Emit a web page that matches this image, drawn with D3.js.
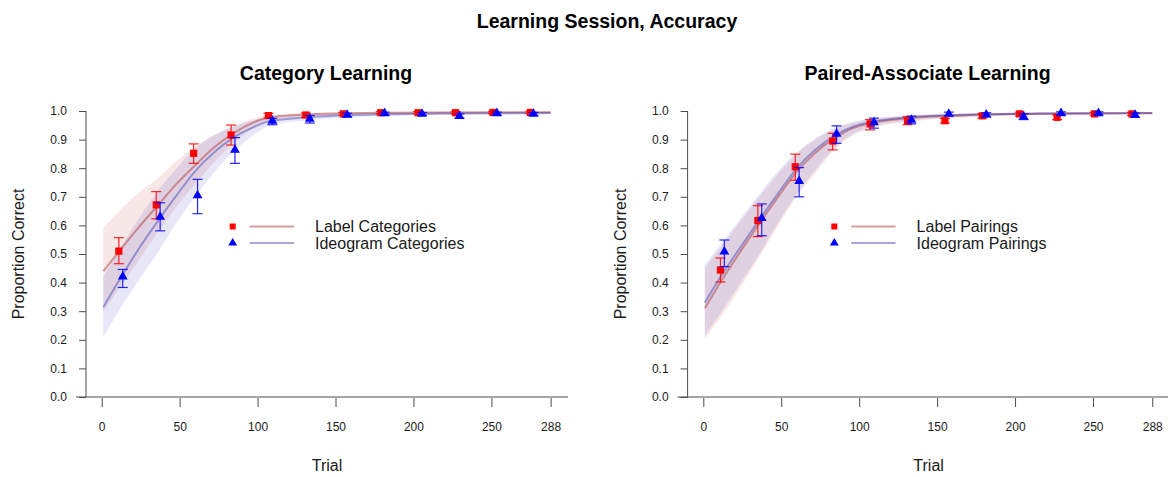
<!DOCTYPE html>
<html><head><meta charset="utf-8">
<script src="https://cdn.jsdelivr.net/npm/d3@7"></script>
<style>
html,body{margin:0;padding:0;background:#fff;}
svg{display:block;font-family:"Liberation Sans",Arial,sans-serif;}
</style></head>
<body><svg id="chart" width="1168" height="477"></svg>
<script>
// ---------- data ----------
const mainTitle = "Learning Session, Accuracy";
const panelTitles = ["Category Learning", "Paired-Associate Learning"];
const legendLabels = [["Label Categories", "Ideogram Categories"], ["Label Pairings", "Ideogram Pairings"]];
const xTickValues = [0, 50, 100, 150, 200, 250, 288];
const yTickValues = [0, 0.1, 0.2, 0.3, 0.4, 0.5, 0.6, 0.7, 0.8, 0.9, 1.0];

// block trial positions of observed means
const labelTrials = [11, 35, 59, 83, 107, 131, 155, 179, 203, 227, 251, 275];
const ideoTrials  = [13.5, 37.5, 61.5, 85.5, 109.5, 133.5, 157.5, 181.5, 205.5, 229.5, 253.5, 277];

// Category Learning observed
const catLabelMean = [0.510, 0.672, 0.852, 0.916, 0.984, 0.986, 0.990, 0.994, 0.994, 0.994, 0.995, 0.995];
const catLabelLo   = [0.466, 0.623, 0.817, 0.881, 0.976, 0.978, 0.985, 0.990, 0.990, 0.990, 0.991, 0.991];
const catLabelHi   = [0.557, 0.718, 0.885, 0.951, 0.992, 0.993, 0.995, 0.998, 0.998, 0.998, 0.999, 0.999];
const catIdeoMean  = [0.421, 0.630, 0.705, 0.864, 0.965, 0.972, 0.986, 0.992, 0.990, 0.982, 0.992, 0.990];
const catIdeoLo    = [0.383, 0.581, 0.641, 0.817, 0.952, 0.958, 0.980, 0.986, 0.985, 0.975, 0.986, 0.985];
const catIdeoHi    = [0.446, 0.679, 0.761, 0.907, 0.974, 0.984, 0.992, 0.996, 0.995, 0.990, 0.996, 0.995];

// Paired-Associate Learning observed
const pairLabelMean = [0.444, 0.617, 0.805, 0.895, 0.955, 0.966, 0.966, 0.983, 0.990, 0.978, 0.990, 0.990];
const pairLabelLo   = [0.402, 0.561, 0.758, 0.864, 0.934, 0.952, 0.958, 0.975, 0.982, 0.970, 0.984, 0.984];
const pairLabelHi   = [0.486, 0.669, 0.849, 0.922, 0.970, 0.980, 0.974, 0.990, 0.996, 0.986, 0.996, 0.996];
const pairIdeoMean  = [0.508, 0.625, 0.755, 0.920, 0.960, 0.969, 0.990, 0.987, 0.980, 0.992, 0.992, 0.986];
const pairIdeoLo    = [0.456, 0.564, 0.700, 0.887, 0.940, 0.955, 0.984, 0.980, 0.970, 0.986, 0.986, 0.978];
const pairIdeoHi    = [0.549, 0.675, 0.802, 0.948, 0.975, 0.982, 0.996, 0.994, 0.990, 0.997, 0.997, 0.993];

// fitted curves with bands
const fitTrials = [1, 12, 24, 36, 48, 60, 72, 84, 96, 108, 132, 168, 216, 288];
const catLabelFit   = [0.440, 0.515, 0.595, 0.670, 0.745, 0.810, 0.872, 0.920, 0.957, 0.978, 0.988, 0.993, 0.995, 0.996];
const catLabelFitLo = [0.300, 0.385, 0.480, 0.575, 0.665, 0.745, 0.820, 0.885, 0.935, 0.967, 0.982, 0.989, 0.992, 0.993];
const catLabelFitHi = [0.590, 0.655, 0.715, 0.765, 0.825, 0.875, 0.915, 0.945, 0.972, 0.986, 0.992, 0.995, 0.997, 0.998];
const catIdeoFit    = [0.314, 0.415, 0.520, 0.615, 0.705, 0.790, 0.855, 0.905, 0.940, 0.965, 0.978, 0.987, 0.991, 0.993];
const catIdeoFitLo  = [0.209, 0.310, 0.410, 0.505, 0.610, 0.700, 0.785, 0.855, 0.910, 0.950, 0.968, 0.980, 0.986, 0.989];
const catIdeoFitHi  = [0.420, 0.520, 0.625, 0.720, 0.800, 0.870, 0.915, 0.945, 0.965, 0.978, 0.987, 0.992, 0.995, 0.996];
const pairLabelFit   = [0.310, 0.410, 0.510, 0.607, 0.700, 0.788, 0.855, 0.904, 0.940, 0.958, 0.975, 0.985, 0.990, 0.992];
const pairLabelFitLo = [0.205, 0.285, 0.385, 0.490, 0.600, 0.700, 0.785, 0.864, 0.915, 0.940, 0.962, 0.978, 0.986, 0.989];
const pairLabelFitHi = [0.450, 0.530, 0.615, 0.700, 0.780, 0.850, 0.900, 0.935, 0.958, 0.970, 0.983, 0.990, 0.994, 0.995];
const pairIdeoFit    = [0.330, 0.428, 0.525, 0.620, 0.712, 0.800, 0.865, 0.913, 0.945, 0.962, 0.978, 0.987, 0.991, 0.993];
const pairIdeoFitLo  = [0.215, 0.300, 0.400, 0.500, 0.610, 0.710, 0.795, 0.870, 0.920, 0.945, 0.966, 0.980, 0.987, 0.990];
const pairIdeoFitHi  = [0.462, 0.540, 0.625, 0.710, 0.790, 0.855, 0.905, 0.940, 0.962, 0.974, 0.985, 0.991, 0.995, 0.996];

// ---------- drawing ----------
const svg = d3.select("#chart");
const textCol = "#1a1a1a";
const axisCol = "#4d4d4d";

svg.append("text").attr("x", 607).attr("y", 28).attr("text-anchor", "middle")
  .attr("font-size", 19.5).attr("font-weight", "bold").attr("fill", "#000").text(mainTitle);

const panels = [
  { ox: 0, title: panelTitles[0], legend: legendLabels[0],
    label: { mean: catLabelMean, lo: catLabelLo, hi: catLabelHi, fit: catLabelFit, flo: catLabelFitLo, fhi: catLabelFitHi },
    ideo:  { mean: catIdeoMean, lo: catIdeoLo, hi: catIdeoHi, fit: catIdeoFit, flo: catIdeoFitLo, fhi: catIdeoFitHi } },
  { ox: 601.6, title: panelTitles[1], legend: legendLabels[1],
    label: { mean: pairLabelMean, lo: pairLabelLo, hi: pairLabelHi, fit: pairLabelFit, flo: pairLabelFitLo, fhi: pairLabelFitHi },
    ideo:  { mean: pairIdeoMean, lo: pairIdeoLo, hi: pairIdeoHi, fit: pairIdeoFit, flo: pairIdeoFitLo, fhi: pairIdeoFitHi } }
];

const redPt = "#ff0000", bluePt = "#0000ff";
const redLine = "rgba(178,60,60,0.5)", blueLine = "rgba(60,60,178,0.45)";
const redBand = "rgba(178,40,40,0.11)", blueBand = "rgba(40,40,190,0.11)";

panels.forEach(p => {
  const g = svg.append("g").attr("transform", `translate(${p.ox},0)`);
  const x = d3.scaleLinear().domain([0, 250]).range([101.7, 491.4]);
  const y = d3.scaleLinear().domain([0, 1]).range([397, 111]);
  const axX = 86;

  // title
  g.append("text").attr("x", 326).attr("y", 80).attr("text-anchor", "middle")
    .attr("font-size", 19.5).attr("font-weight", "bold").attr("fill", "#000").text(p.title);

  // y axis
  const yAxis = d3.axisLeft(y).tickValues(yTickValues).tickFormat(d3.format(".1f")).tickSize(7).tickSizeOuter(0);
  const ya = g.append("g").attr("transform", `translate(${axX},0)`).call(yAxis);
  ya.select(".domain").remove();
  ya.append("line").attr("x1", 0).attr("x2", 0).attr("y1", y(1)).attr("y2", y(0) ).attr("stroke", axisCol);
  ya.selectAll(".tick line").attr("stroke", axisCol);
  ya.selectAll(".tick text").attr("fill", textCol).attr("font-size", 12)
    .attr("font-family", "Liberation Sans, Arial, sans-serif").attr("x", -19);

  // x axis: horizontal baseline + detached ticks
  g.append("line").attr("x1", 76).attr("x2", 568).attr("y1", 397).attr("y2", 397).attr("stroke", axisCol);
  const xAxis = d3.axisBottom(x).tickValues(xTickValues).tickFormat(d3.format("d")).tickSize(9).tickSizeOuter(0);
  const xa = g.append("g").attr("transform", `translate(0,398)`).call(xAxis);
  xa.select(".domain").remove();
  xa.selectAll(".tick line").attr("stroke", axisCol);
  xa.selectAll(".tick text").attr("fill", textCol).attr("font-size", 12)
    .attr("font-family", "Liberation Sans, Arial, sans-serif").attr("y", 24);

  // axis labels
  g.append("text").attr("transform", "translate(24,254) rotate(-90)").attr("text-anchor", "middle")
    .attr("font-size", 16).attr("fill", textCol).text("Proportion Correct");
  g.append("text").attr("x", 327).attr("y", 471).attr("text-anchor", "middle")
    .attr("font-size", 16).attr("fill", textCol).text("Trial");

  // bands
  const area = arr => d3.area().curve(d3.curveMonotoneX)
    .x((d, i) => x(fitTrials[i])).y0((d, i) => y(arr.flo[i])).y1((d, i) => y(arr.fhi[i]));
  g.append("path").datum(fitTrials).attr("d", area(p.label)).attr("fill", redBand);
  g.append("path").datum(fitTrials).attr("d", area(p.ideo)).attr("fill", blueBand);

  const line = arr => d3.line().curve(d3.curveMonotoneX).x((d, i) => x(fitTrials[i])).y((d, i) => y(arr[i]));
  g.append("path").datum(fitTrials).attr("d", line(p.label.fit)).attr("fill", "none").attr("stroke", redLine).attr("stroke-width", 2);
  g.append("path").datum(fitTrials).attr("d", line(p.ideo.fit)).attr("fill", "none").attr("stroke", blueLine).attr("stroke-width", 2);

  // error bars + points
  function drawSeries(trials, s, col, shape) {
    const eg = g.append("g").attr("stroke", col).attr("stroke-width", 1.2).attr("stroke-opacity", 0.85);
    trials.forEach((t, i) => {
      const cx = x(t);
      eg.append("line").attr("x1", cx).attr("x2", cx).attr("y1", y(s.lo[i])).attr("y2", y(s.hi[i]));
      eg.append("line").attr("x1", cx - 5).attr("x2", cx + 5).attr("y1", y(s.lo[i])).attr("y2", y(s.lo[i]));
      eg.append("line").attr("x1", cx - 5).attr("x2", cx + 5).attr("y1", y(s.hi[i])).attr("y2", y(s.hi[i]));
    });
    const sym = d3.symbol().type(shape).size(shape === d3.symbolSquare ? 52 : 42);
    g.append("g").selectAll("path").data(trials).join("path")
      .attr("transform", (t, i) => `translate(${x(t)},${y(s.mean[i])})`)
      .attr("d", sym).attr("fill", col);
  }
  drawSeries(labelTrials, p.label, redPt, d3.symbolSquare);
  drawSeries(ideoTrials, p.ideo, bluePt, d3.symbolTriangle);

  // legend
  const lg = g.append("g");
  lg.append("path").attr("transform", "translate(232.7,226.5)").attr("d", d3.symbol().type(d3.symbolSquare).size(36)).attr("fill", redPt);
  lg.append("path").attr("transform", "translate(232.7,243)").attr("d", d3.symbol().type(d3.symbolTriangle).size(34)).attr("fill", bluePt);
  lg.append("line").attr("x1", 249.5).attr("x2", 294).attr("y1", 226.5).attr("y2", 226.5).attr("stroke", redLine).attr("stroke-width", 2);
  lg.append("line").attr("x1", 249.5).attr("x2", 294).attr("y1", 243).attr("y2", 243).attr("stroke", blueLine).attr("stroke-width", 2);
  lg.append("text").attr("x", 315).attr("y", 232).attr("font-size", 16).attr("fill", textCol).text(p.legend[0]);
  lg.append("text").attr("x", 315).attr("y", 248.5).attr("font-size", 16).attr("fill", textCol).text(p.legend[1]);
});
</script></body></html>
